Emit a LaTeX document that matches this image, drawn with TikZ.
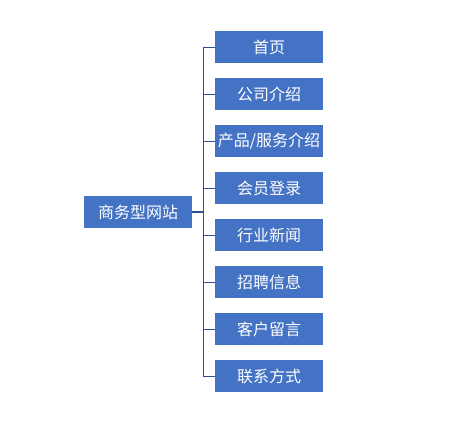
\documentclass[tikz,border=0pt]{standalone}
\usepackage{fontspec}
\setmainfont{Noto Sans CJK SC}
\usetikzlibrary{positioning}

\definecolor{boxblue}{HTML}{4472C4}
\definecolor{lineblue}{HTML}{2F528F}

\begin{document}
\begin{tikzpicture}[x=1pt,y=-1pt,
  box/.style={fill=boxblue, text=white, minimum width=108pt, minimum height=32pt,
    inner sep=0pt, font=\fontsize{16}{19}\selectfont},
  link/.style={draw=lineblue, line width=0.8pt}]
\useasboundingbox (0,0) rectangle (458,428);

\node[box] (site) at (138,212) {商务型网站};

\node[box] (home) at (269,47) {首页};
\node[box] (company) at (269,94) {公司介绍};
\node[box] (product) at (269,141) {产品/服务介绍};
\node[box] (member) at (269,188) {会员登录};
\node[box] (news) at (269,235) {行业新闻};
\node[box] (jobs) at (269,282) {招聘信息};
\node[box] (message) at (269,329) {客户留言};
\node[box] (contact) at (269,376) {联系方式};

\coordinate (trunk) at (203,212);
\draw[link, line width=1.6pt] (site.east) -- (trunk);
\draw[link] (home.west -| trunk) -- (contact.west -| trunk);
\draw[link] (home.west) -- (home.west -| trunk);
\draw[link] (company.west) -- (company.west -| trunk);
\draw[link] (product.west) -- (product.west -| trunk);
\draw[link] (member.west) -- (member.west -| trunk);
\draw[link] (news.west) -- (news.west -| trunk);
\draw[link] (jobs.west) -- (jobs.west -| trunk);
\draw[link] (message.west) -- (message.west -| trunk);
\draw[link] (contact.west) -- (contact.west -| trunk);
\end{tikzpicture}
\end{document}
